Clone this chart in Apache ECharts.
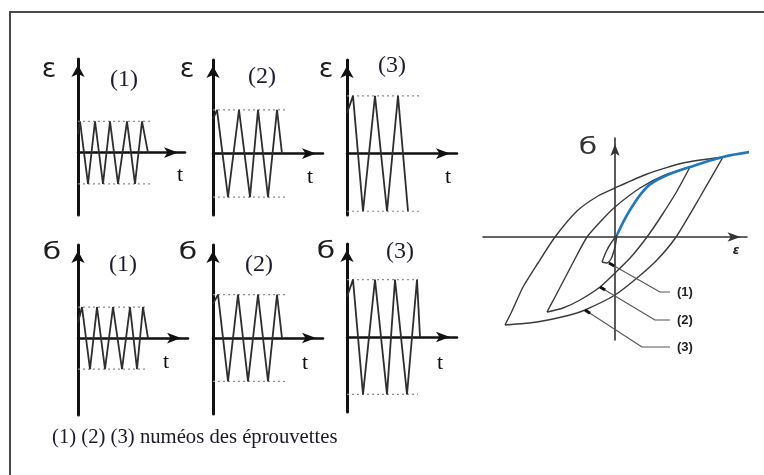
<!DOCTYPE html>
<html>
<head>
<meta charset="utf-8">
<script src="https://cdn.jsdelivr.net/npm/echarts/dist/echarts.min.js"></script>
<style>
html, body { margin: 0; padding: 0; background: #fff; }
#chart { width: 764px; height: 475px; }
</style>
</head>
<body>
<div id="chart"></div>
<script>
// ---- Imposed strain ε(t), turning points [t, ε] for specimens (1), (2), (3)
const strain1 = [[0,0.6],[0.2,1],[1.0,-1],[1.7,1],[2.5,-1],[3.2,1],[4.0,-1],[4.9,1],[5.7,-1],[6.4,1],[7.0,0]];
const strain2 = [[0,1.1],[0.4,1.4],[1.5,-1.4],[2.6,1.4],[3.7,-1.4],[4.5,1.4],[5.5,-1.4],[6.4,1.4],[6.9,0]];
const strain3 = [[0,1.3],[0.6,1.85],[1.6,-1.85],[2.8,1.85],[4.0,-1.85],[5.1,1.85],[6.1,-1.85]];
const strainAmp = [1.0, 1.4, 1.85];
const strainDashEnd = [7.2, 7.4, 7.3];

// ---- Resulting stress σ(t), turning points [t, σ]
const stress1 = [[0,0.5],[0.4,1],[1.2,-1],[1.9,1],[2.7,-1],[3.5,1],[4.4,-1],[5.2,1],[5.9,-1],[6.5,1],[7.0,0]];
const stress2 = [[0,1.1],[0.5,1.4],[1.5,-1.4],[2.5,1.4],[3.5,-1.4],[4.5,1.4],[5.5,-1.4],[6.4,1.4],[6.9,0]];
const stress3 = [[0,1.3],[0.6,1.85],[1.6,-1.85],[2.8,1.85],[4.0,-1.85],[4.8,1.85],[6.0,-1.85],[7.0,1.85],[7.3,0]];
const stressAmp = [1.0, 1.4, 1.85];
const stressDashEnd = [6.9, 7.2, 7.1];

// ---- Stabilised σ–ε hysteresis loops [ε, σ]
const loop1Upper = [[-1.3,-2.5],[-0.9,-1.5],[-0.4,-0.6],[0.2,0.2]];
const loop1Lower = [[0.2,0.2],[0.0,-1.0],[-0.4,-2.2],[-0.8,-2.6],[-1.3,-2.5]];
const loop2Upper = [[-6.8,-7.5],[-6.0,-6.0],[-4.9,-3.9],[-3.8,-1.8],[-2.8,0],[-1.4,1.6],[0,3.0],[2.5,4.9],[5.0,6.2],[7.5,7.0]];
const loop2Lower = [[7.5,7.0],[6.2,4.6],[4.7,2.2],[3.2,0],[1.6,-2.0],[0,-3.6],[-1.5,-5.0],[-3.5,-6.3],[-5.2,-7.1],[-6.8,-7.5]];
const loop3Upper = [[-11,-8.8],[-10.3,-7.4],[-9.2,-5.0],[-7.7,-2.6],[-6.0,0],[-3.8,2.6],[-1.7,4.1],[0,4.9],[3.2,6.3],[6.8,7.4],[10.8,8.0]];
const loop3Lower = [[10.8,8.0],[8.5,4.0],[6.1,0],[4.2,-2.3],[2.2,-4.1],[0,-5.8],[-3.0,-7.3],[-4.5,-7.8],[-7.8,-8.5],[-11,-8.8]];
// first-loading (monotonic) curve
const monotonic = [[0.2,0.2],[1.5,2.7],[3.2,5.0],[4.8,6.0],[7.5,7.0],[10.8,8.0],[13.5,8.5]];
// leader lines from each loop to its number
const leader1 = [[-0.6,-2.6],[4.5,-5.5],[5.5,-5.5]];
const leader2 = [[-1.5,-5.0],[4.0,-8.3],[5.5,-8.3]];
const leader3 = [[-3.0,-7.3],[2.7,-11.0],[5.5,-11.0]];
const leaderTags = ['(1)', '(2)', '(3)'];
const specimenTags = ['(1)', '(2)', '(3)'];

// ---- layout of the six small time plots + the loop plot
const panels = [
  { left: 78,  top: 59,  width: 107, height: 156, tMax: 10.7, yMin: -2,    yMax: 3 },
  { left: 213, top: 60,  width: 110, height: 155, tMax: 11.0, yMin: -1.97, yMax: 3 },
  { left: 347, top: 60,  width: 110, height: 155, tMax: 11.0, yMin: -1.97, yMax: 3 },
  { left: 78,  top: 245, width: 110, height: 170, tMax: 11.0, yMin: -2.48, yMax: 3 },
  { left: 213, top: 245, width: 110, height: 169, tMax: 11.0, yMin: -2.45, yMax: 3 },
  { left: 347, top: 244, width: 110, height: 168, tMax: 11.0, yMin: -2.42, yMax: 3 }
];
const waves = [strain1, strain2, strain3, stress1, stress2, stress3];
const amps = strainAmp.concat(stressAmp);
const dashEnds = strainDashEnd.concat(stressDashEnd);

const grids = [], xAxes = [], yAxes = [], series = [];
const hidden = { axisTick: { show: false }, axisLabel: { show: false }, splitLine: { show: false } };

panels.forEach((p, i) => {
  grids.push({ left: p.left, top: p.top, width: p.width, height: p.height, outerBoundsMode: 'none' });
  xAxes.push(Object.assign({
    type: 'value', gridIndex: i, min: 0, max: p.tMax,
    axisLine: { show: true, onZero: true, symbol: ['none', 'arrow'], symbolSize: [8, 14], symbolOffset: [0, -7],
      lineStyle: { color: '#111', width: 2.5 } }
  }, hidden));
  yAxes.push(Object.assign({
    type: 'value', gridIndex: i, min: p.yMin, max: p.yMax,
    axisLine: { show: true, onZero: false, symbol: ['none', 'arrow'], symbolSize: [10, 12], symbolOffset: [0, -6],
      lineStyle: { color: '#111', width: 3 } }
  }, hidden));
  const a = amps[i], e = dashEnds[i];
  const dash = { color: '#8c8c8c', width: 1.2, type: [2, 3] };
  series.push(
    { type: 'line', xAxisIndex: i, yAxisIndex: i, data: [[0, a], [e, a]], symbol: 'none', lineStyle: dash, silent: true },
    { type: 'line', xAxisIndex: i, yAxisIndex: i, data: [[0, -a], [e, -a]], symbol: 'none', lineStyle: dash, silent: true },
    { type: 'line', xAxisIndex: i, yAxisIndex: i, data: waves[i], symbol: 'none', lineStyle: { color: '#2e2e2e', width: 1.8 } }
  );
});

// σ–ε plot
const H = panels.length;
grids.push({ left: 483, top: 138, width: 264, height: 202, outerBoundsMode: 'none' });
xAxes.push(Object.assign({
  type: 'value', gridIndex: H, min: -13.2, max: 13.2,
  axisLine: { show: true, onZero: true, symbol: ['none', 'arrow'], symbolSize: [7, 13], symbolOffset: [0, -6.5],
    lineStyle: { color: '#333', width: 1.6 } }
}, hidden));
yAxes.push(Object.assign({
  type: 'value', gridIndex: H, min: -10.3, max: 9.9,
  axisLine: { show: true, onZero: true, symbol: ['none', 'arrow'], symbolSize: [7, 12], symbolOffset: [0, -6],
    lineStyle: { color: '#333', width: 1.6 } }
}, hidden));

const loopStyle = { color: '#3a3a3a', width: 1.4 };
[loop1Upper, loop1Lower, loop2Upper, loop2Lower, loop3Upper, loop3Lower].forEach(d => {
  series.push({ type: 'line', xAxisIndex: H, yAxisIndex: H, data: d, symbol: 'none', smooth: 0.2,
    clip: false, lineStyle: loopStyle, silent: true });
});
series.push({ type: 'line', xAxisIndex: H, yAxisIndex: H, data: monotonic, symbol: 'none', smooth: 0.4,
  clip: false, lineStyle: { color: '#1f78c0', width: 2.6 }, z: 5, silent: true });

[leader1, leader2, leader3].forEach((d, k) => {
  series.push({ type: 'line', xAxisIndex: H, yAxisIndex: H, data: d, symbol: 'none', clip: false,
    lineStyle: { color: '#555', width: 1.1 }, silent: true,
    endLabel: { show: true, formatter: leaderTags[k], distance: 7,
      fontFamily: 'Liberation Sans', fontWeight: 'bold', fontSize: 13, color: '#222' } });
  // short bold stroke where the leader meets its loop
  const s = d[0], n = d[1];
  const len = Math.hypot(n[0] - s[0], n[1] - s[1]);
  const tip = [s[0] + (n[0] - s[0]) * 0.6 / len, s[1] + (n[1] - s[1]) * 0.6 / len];
  series.push({ type: 'line', xAxisIndex: H, yAxisIndex: H, data: [s, tip], symbol: 'none', clip: false,
    lineStyle: { color: '#111', width: 3 }, silent: true, z: 6 });
});

// ---- text
const serif = 'Liberation Serif, Times New Roman, serif';
const sans = 'DejaVu Sans, sans-serif';
function txt(x, y, s, font, size, color, extra) {
  return Object.assign({ type: 'text', x: x, y: y, silent: true,
    style: { text: s, font: size + 'px ' + font, fill: color || '#1d1d2e', textAlign: 'center', textVerticalAlign: 'middle' } }, extra || {});
}
const wide = { scaleX: 1.3, originX: 0, originY: 0 };
const graphic = [
  { type: 'rect', shape: { x: 10, y: 12, width: 820, height: 520 }, style: { fill: 'none', stroke: '#4a4a4a', lineWidth: 2 }, silent: true },
  // strain row
  txt(49, 70, 'ε', sans, 27, '#1d1d1d'), txt(187, 70, 'ε', sans, 27, '#1d1d1d'), txt(326, 70, 'ε', sans, 27, '#1d1d1d'),
  txt(124, 80, specimenTags[0], serif, 24), txt(262, 77, specimenTags[1], serif, 24), txt(392, 66, specimenTags[2], serif, 24),
  txt(180, 175, 't', serif, 22, '#111'), txt(310, 177, 't', serif, 22, '#111'), txt(448, 177, 't', serif, 22, '#111'),
  // stress row
  txt(52, 253, 'б', sans, 23, '#1d1d1d', wide),
  txt(188, 253, 'б', sans, 23, '#1d1d1d', wide),
  txt(326, 252, 'б', sans, 23, '#1d1d1d', wide),
  txt(123, 265, specimenTags[0], serif, 24), txt(259, 265, specimenTags[1], serif, 24), txt(400, 252, specimenTags[2], serif, 24),
  txt(166, 362, 't', serif, 22, '#111'), txt(305, 363, 't', serif, 22, '#111'), txt(440, 363, 't', serif, 22, '#111'),
  // loop plot axis names
  txt(588, 148, 'б', sans, 23, '#333', wide),
  { type: 'text', x: 736, y: 251, silent: true,
    style: { text: 'ε', font: 'italic bold 12px ' + sans, fill: '#222', textAlign: 'center', textVerticalAlign: 'middle' } },
  // caption
  { type: 'text', x: 52, y: 438, silent: true,
    style: { text: '(1) (2) (3) numéos des éprouvettes', font: '20.7px ' + serif, fill: '#1a1a2a', textAlign: 'left', textVerticalAlign: 'middle' } }
];

const chart = echarts.init(document.getElementById('chart'), null, { renderer: 'canvas' });
chart.setOption({
  animation: false,
  backgroundColor: '#fff',
  grid: grids,
  xAxis: xAxes,
  yAxis: yAxes,
  series: series,
  graphic: graphic
});
</script>
</body>
</html>
